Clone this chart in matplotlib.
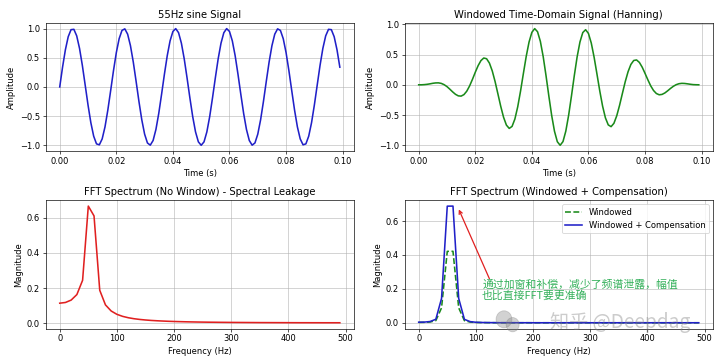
import numpy as np
import matplotlib
matplotlib.use("Agg")
import matplotlib.pyplot as plt
from matplotlib.patches import Ellipse

# sampling setup (100 samples at 1 kHz)
fs = 1000
n_samples = 100

# 55Hz sine, values
sine = [0.000, 0.339, 0.637, 0.861, 0.982, 0.988, 0.876, 0.661, 0.368, 0.031,
        -0.309, -0.613, -0.844, -0.976, -0.992, -0.891, -0.685, -0.397, -0.063, 0.279,
        0.588, 0.827, 0.969, 0.996, 0.905, 0.707, 0.426, 0.094, -0.249, -0.562,
        -0.809, -0.960, -0.998, -0.918, -0.729, -0.454, -0.125, 0.218, 0.536, 0.790,
        0.951, 1.000, 0.930, 0.750, 0.482, 0.156, -0.187, -0.509, -0.771, -0.941,
        -1.000, -0.941, -0.771, -0.509, -0.187, 0.156, 0.482, 0.750, 0.930, 1.000,
        0.951, 0.790, 0.536, 0.218, -0.125, -0.454, -0.729, -0.918, -0.998, -0.960,
        -0.809, -0.562, -0.249, 0.094, 0.426, 0.707, 0.905, 0.996, 0.969, 0.827,
        0.588, 0.279, -0.063, -0.397, -0.685, -0.891, -0.992, -0.976, -0.844, -0.613,
        -0.309, 0.031, 0.368, 0.661, 0.876, 0.988, 0.982, 0.861, 0.637, 0.339]

# hanning windowed signal
windowed = [0.000, 0.000, 0.003, 0.008, 0.016, 0.025, 0.031, 0.032, 0.023, 0.002,
            -0.030, -0.072, -0.117, -0.157, -0.183, -0.187, -0.162, -0.105, -0.018, 0.090,
            0.207, 0.316, 0.400, 0.443, 0.431, 0.359, 0.230, 0.054, -0.150, -0.356,
            -0.537, -0.666, -0.721, -0.688, -0.566, -0.364, -0.104, 0.186, 0.468, 0.706,
            0.867, 0.929, 0.878, 0.719, 0.467, 0.153, -0.185, -0.506, -0.769, -0.941,
            -1.000, -0.939, -0.766, -0.503, -0.184, 0.152, 0.462, 0.708, 0.864, 0.911,
            0.849, 0.690, 0.456, 0.180, -0.101, -0.353, -0.547, -0.663, -0.692, -0.637,
            -0.512, -0.339, -0.142, 0.051, 0.216, 0.337, 0.402, 0.411, 0.370, 0.291,
            0.189, 0.082, -0.017, -0.094, -0.144, -0.165, -0.159, -0.135, -0.099, -0.060,
            -0.025, 0.002, 0.018, 0.024, 0.022, 0.016, 0.009, 0.003, 0.001, 0.000]

# spectrum without window (0..490 Hz, 10 Hz bins)
fft_nowin = [0.1146, 0.1186, 0.1322, 0.1636, 0.2446, 0.6658, 0.6101, 0.1879, 0.1049, 0.0702,
             0.0514, 0.0398, 0.0320, 0.0264, 0.0223, 0.0192, 0.0167, 0.0148, 0.0132, 0.0118,
             0.0107, 0.0098, 0.0090, 0.0083, 0.0077, 0.0072, 0.0067, 0.0064, 0.0060, 0.0057,
             0.0054, 0.0052, 0.0050, 0.0048, 0.0046, 0.0044, 0.0043, 0.0042, 0.0041, 0.0040,
             0.0039, 0.0038, 0.0037, 0.0037, 0.0036, 0.0036, 0.0035, 0.0035, 0.0035, 0.0035]

fft_win = [0.0020, 0.0024, 0.0045, 0.0126, 0.0881, 0.4214, 0.4217, 0.0879, 0.0123, 0.0041,
           0.0018, 0.0010, 0.0006, 0.0004, 0.0002, 0.0002, 0.0001, 0.0001, 0.0001, 0.0001] + [0.0] * 30

fft_comp = [0.0033, 0.0039, 0.0073, 0.0206, 0.1439, 0.6882, 0.6886, 0.1435, 0.0201, 0.0067,
            0.0029, 0.0016, 0.0010, 0.0007, 0.0003, 0.0003, 0.0002, 0.0002, 0.0002, 0.0002] + [0.0] * 30

note = "通过加窗和补偿，减少了频谱泄露，幅值\n也比直接FFT要更准确"

t = np.arange(n_samples) / fs
freqs = np.arange(n_samples // 2) * fs / n_samples

plt.rcParams['font.family'] = ['DejaVu Sans', 'Noto Sans CJK SC']
plt.rcParams['lines.linewidth'] = 1.9

fig, axs = plt.subplots(2, 2, figsize=(12, 356 / 60), dpi=60)
fig.subplots_adjust(left=0.0635, right=0.99, top=0.936, bottom=0.077,
                    wspace=0.165, hspace=0.383)

ax = axs[0, 0]
ax.plot(t, sine, color='#2020c8')
ax.set_title("55Hz sine Signal")
ax.set_xlabel("Time (s)")
ax.set_ylabel("Amplitude")
ax.grid(True, alpha=0.8)

ax = axs[0, 1]
ax.plot(t, windowed, color='#1a8a1a')
ax.set_title("Windowed Time-Domain Signal (Hanning)")
ax.set_xlabel("Time (s)")
ax.set_ylabel("Amplitude")
ax.grid(True, alpha=0.8)

ax = axs[1, 0]
ax.plot(freqs, fft_nowin, color='#e02020')
ax.set_title("FFT Spectrum (No Window) - Spectral Leakage")
ax.set_xlabel("Frequency (Hz)")
ax.set_ylabel("Magnitude")
ax.grid(True, alpha=0.8)

ax = axs[1, 1]
ax.plot(freqs, fft_win, '--', color='#1a8a1a', label="Windowed")
ax.plot(freqs, fft_comp, color='#2020c8', label="Windowed + Compensation")
ax.set_title("FFT Spectrum (Windowed + Compensation)")
ax.set_xlabel("Frequency (Hz)")
ax.set_ylabel("Magnitude")
ax.grid(True, alpha=0.8)
ax.legend(loc='upper right')
ax.annotate("", xy=(69, 0.678), xytext=(125, 0.25),
            arrowprops=dict(arrowstyle='->', color='#e02020', lw=1.5))
ax.text(111, 0.194, note, color='#33b05a', fontsize=13, ha='left', va='center',
        linespacing=1.0, family=['Noto Sans CJK SC', 'DejaVu Sans'])

# watermark from the source image
fig.patches.append(Ellipse((0.700, 0.103), 0.022, 0.048, transform=fig.transFigure,
                           color='gray', alpha=0.35, zorder=5))
fig.patches.append(Ellipse((0.712, 0.088), 0.018, 0.040, transform=fig.transFigure,
                           color='gray', alpha=0.35, zorder=5))
fig.text(0.861, 0.095, "知乎 @Deepdag", color='gray', alpha=0.4, fontsize=23,
         ha='center', va='center', family=['Noto Sans CJK SC', 'DejaVu Sans'])

fig.savefig("out.png", dpi=60)
